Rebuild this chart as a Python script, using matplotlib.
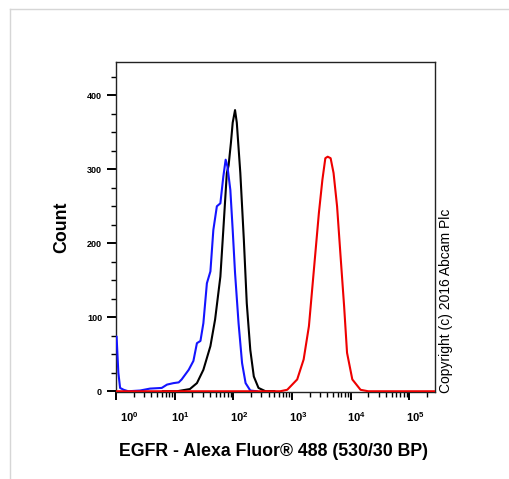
import matplotlib
matplotlib.use('Agg')
import matplotlib.pyplot as plt
import numpy as np
from matplotlib.ticker import LogLocator, MultipleLocator, NullFormatter, FixedLocator, FixedFormatter
from matplotlib.lines import Line2D
import matplotlib.transforms as mtransforms

plt.rcParams['font.family'] = ['Liberation Sans', 'DejaVu Sans']
plt.rcParams['mathtext.fontset'] = 'custom'
plt.rcParams['mathtext.rm'] = 'Liberation Sans'
plt.rcParams['mathtext.it'] = 'Liberation Sans'
plt.rcParams['mathtext.bf'] = 'Liberation Sans:bold'

# ---- data (log10 fluorescence intensity, event count) ----
blue_log = [0.0, 0.01, 0.04, 0.07, 0.13, 0.21, 0.41, 0.58, 0.78, 0.87,
            0.98, 1.07, 1.12, 1.24, 1.32, 1.38, 1.44, 1.49, 1.55, 1.61,
            1.66, 1.72, 1.78, 1.83, 1.87, 1.90, 1.95, 1.99, 2.03, 2.09,
            2.15, 2.21, 2.29, 2.40]
blue_count = [74, 74, 25, 4.5, 2, 0, 1, 3.6, 4.5, 9,
              11, 12, 16, 29, 41, 65, 68, 92, 146, 162,
              218, 250, 254, 290, 313, 304, 272, 218, 160, 92,
              38, 11, 1, 0]

black_log = [0.80, 1.04, 1.26, 1.38, 1.49, 1.61, 1.69, 1.78, 1.83, 1.89,
             1.92, 1.96, 1.99, 2.03, 2.06, 2.12, 2.18, 2.23, 2.29, 2.35,
             2.43, 2.55, 2.70]
black_count = [0, 0, 3, 11, 29, 61, 97, 155, 218, 295,
               305, 336, 363, 380, 363, 295, 205, 119, 56, 20,
               4.5, 0, 0]

red_log = [0.0, 2.80, 2.92, 3.09, 3.20, 3.29, 3.37, 3.46, 3.52, 3.57,
           3.61, 3.66, 3.71, 3.77, 3.83, 3.89, 3.94, 4.03, 4.17, 4.30,
           5.44]
red_count = [0, 0, 2, 16, 43, 88, 160, 241, 286, 315,
             317, 315, 295, 250, 182, 115, 52, 16, 2, 0,
             0]

x_tick_exps = [0, 1, 2, 3, 4, 5]
y_ticks = [0, 100, 200, 300, 400]
x_label = "EGFR - Alexa Fluor® 488 (530/30 BP)"
y_label = "Count"
copyright_text = "Copyright (c) 2016 Abcam Plc"

# ---- figure ----
W, H = 510, 479
fig = plt.figure(figsize=(W / 100, H / 100), dpi=100)
ax = fig.add_axes([116 / W, 1 - 392 / H, (435 - 116) / W, (392 - 62) / H])

ax.plot(10 ** np.array(blue_log), blue_count, color='#1414ff', lw=1.5, zorder=3)
ax.plot(10 ** np.array(black_log), black_count, color='black', lw=1.5, zorder=2)
ax.plot(10 ** np.array(red_log), red_count, color='#ee0000', lw=1.5, zorder=4)

ax.set_xscale('log')
ax.set_xlim(10 ** 0.0, 10 ** 5.44)
ax.set_ylim(-1.0, 445)

ax.xaxis.set_major_locator(FixedLocator([10.0 ** e for e in x_tick_exps]))
ax.xaxis.set_major_formatter(FixedFormatter([r'$\mathbf{10^{%d}}$' % e for e in x_tick_exps]))
ax.xaxis.set_minor_locator(LogLocator(base=10, subs=np.arange(2, 10), numticks=20))
ax.xaxis.set_minor_formatter(NullFormatter())

ax.yaxis.set_major_locator(FixedLocator(y_ticks))
ax.yaxis.set_minor_locator(MultipleLocator(25))

ax.tick_params(axis='x', which='major', direction='out', length=6, width=1.4,
               labelsize=8, pad=7)
ax.tick_params(axis='x', which='minor', direction='out', length=3.5, width=1.0)
ax.tick_params(axis='y', which='major', direction='out', length=6.5, width=1.4,
               labelsize=6.5, pad=3.5)
ax.tick_params(axis='y', which='minor', direction='out', length=3.5, width=1.0)
for lab in ax.get_yticklabels():
    lab.set_fontweight('bold')

for i, lab in enumerate(ax.get_xticklabels()):
    dx = 13 if i == 0 else 6
    off = mtransforms.ScaledTranslation(dx / 100, 0, fig.dpi_scale_trans)
    lab.set_transform(lab.get_transform() + off)

for sp in ax.spines.values():
    sp.set_linewidth(1.0)
    sp.set_color('#222222')

ax.set_xlabel(x_label, fontsize=12.8, fontweight='bold')
ax.xaxis.set_label_coords((274 - 116) / 319, -(452 - 392) / 330)
ax.xaxis.label.set_verticalalignment('center')
ax.set_ylabel(y_label, fontsize=12.8, fontweight='bold')
ax.yaxis.set_label_coords(-(116 - 62) / 319, (392 - 227) / 330)
ax.yaxis.label.set_verticalalignment('center')

fig.text(446 / W, 1 - 301 / H, copyright_text, rotation=90, fontsize=10,
         ha='center', va='center')

# light page frame
fig.add_artist(Line2D([10 / W, 1], [1 - 9 / H, 1 - 9 / H], color='#d6d6d6', lw=1))
fig.add_artist(Line2D([10 / W, 10 / W], [0, 1 - 9 / H], color='#d6d6d6', lw=1))

fig.savefig('out.png', dpi=100)
